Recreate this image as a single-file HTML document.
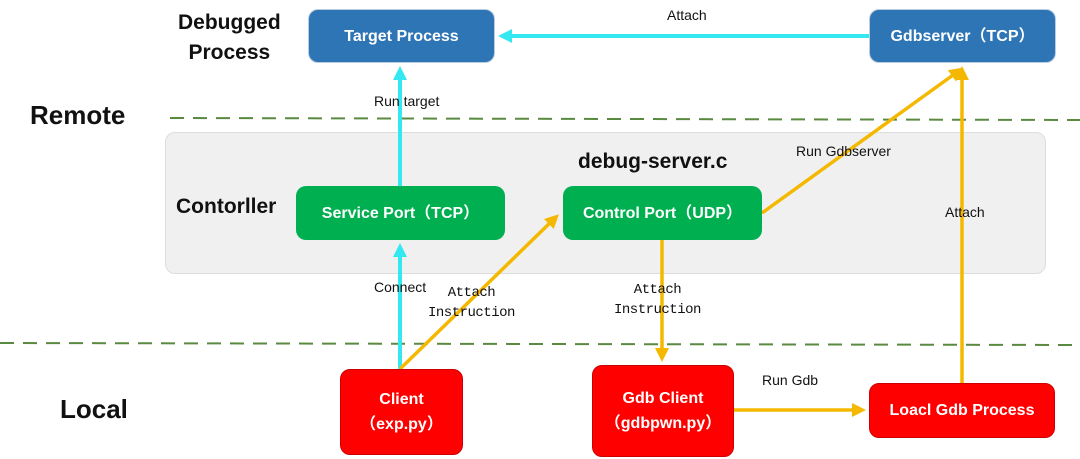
<!DOCTYPE html>
<html><head><style>
body{margin:0;width:1080px;height:459px;background:#fff;position:relative;overflow:hidden;font-family:"Liberation Sans",sans-serif}
.b{position:absolute;border-radius:10px;color:#fff;font-weight:bold;display:flex;align-items:center;justify-content:center;text-align:center;font-size:16px;line-height:25px;font-family:"Liberation Sans","Noto Sans CJK SC",sans-serif;box-sizing:border-box}
.blue{background:#2e75b6;border:1px solid #bcd}
.green{background:#00b050}
.red{background:#f00;border:1px solid #c00}
.t{position:absolute;font-size:14px;color:#111;white-space:nowrap}
.L{position:absolute;font-weight:bold;color:#111}
.m{font-family:"Liberation Mono",monospace;font-size:14px;text-align:center;line-height:20px;letter-spacing:-0.5px}
</style></head><body>
<div style="position:absolute;left:165px;top:132px;width:881px;height:142px;background:#f0f0f0;border:1px solid #ddd;border-radius:10px;box-sizing:border-box"></div>
<svg width="1080" height="459" style="position:absolute;left:0;top:0">
<defs>
<marker id="y" markerWidth="14" markerHeight="14" refX="10" refY="7" orient="auto" markerUnits="userSpaceOnUse"><path d="M0,0 L14,7 L0,14 z" fill="#f5b800"/></marker>
<marker id="c2" markerWidth="14" markerHeight="14" refX="10" refY="7" orient="auto" markerUnits="userSpaceOnUse"><path d="M0,0 L14,7 L0,14 z" fill="#33e8f0"/></marker>
</defs>
<line x1="170" y1="118" x2="1080" y2="120" stroke="#5a8a40" stroke-width="2" stroke-dasharray="14,9"/>
<line x1="0" y1="343" x2="1080" y2="345" stroke="#5a8a40" stroke-width="2" stroke-dasharray="14,9"/>
<g stroke="#33e8f0" stroke-width="4" fill="none">
<line x1="869" y1="36" x2="502" y2="36" marker-end="url(#c2)"/>
<line x1="400" y1="186" x2="400" y2="70" marker-end="url(#c2)"/>
<line x1="400" y1="369" x2="400" y2="247" marker-end="url(#c2)"/>
</g>
<g stroke="#f5b800" stroke-width="3.5" fill="none">
<line x1="400" y1="369" x2="556" y2="217" marker-end="url(#y)"/>
<line x1="662" y1="240" x2="662" y2="358" marker-end="url(#y)"/>
<line x1="762" y1="213" x2="960" y2="70" marker-end="url(#y)"/>
<line x1="734" y1="410" x2="862" y2="410" marker-end="url(#y)"/>
<line x1="962" y1="383" x2="962" y2="70" marker-end="url(#y)"/>
</g>
</svg>
<div class="b blue" style="left:308px;top:9px;width:187px;height:54px">Target Process</div>
<div class="b blue" style="left:869px;top:9px;width:187px;height:54px">Gdbserver（TCP）</div>
<div class="b green" style="left:296px;top:186px;width:209px;height:54px">Service Port（TCP）</div>
<div class="b green" style="left:563px;top:186px;width:199px;height:54px">Control Port（UDP）</div>
<div class="b red" style="left:340px;top:369px;width:123px;height:86px">Client<br>（exp.py）</div>
<div class="b red" style="left:592px;top:365px;width:142px;height:92px">Gdb Client<br>（gdbpwn.py）</div>
<div class="b red" style="left:869px;top:383px;width:186px;height:55px">Loacl Gdb Process</div>
<div class="L" style="left:178px;top:8px;font-size:21px;line-height:30px;text-align:center">Debugged<br>Process</div>
<div class="L" style="left:30px;top:100px;font-size:26px">Remote</div>
<div class="L" style="left:176px;top:195px;font-size:21px">Contorller</div>
<div class="L" style="left:60px;top:394px;font-size:26px">Local</div>
<div class="L" style="left:578px;top:150px;font-size:21px">debug-server.c</div>
<div class="t" style="left:667px;top:7px">Attach</div>
<div class="t" style="left:374px;top:93px">Run target</div>
<div class="t" style="left:796px;top:143px">Run Gdbserver</div>
<div class="t" style="left:945px;top:204px">Attach</div>
<div class="t" style="left:374px;top:279px">Connect</div>
<div class="t m" style="left:428px;top:283px">Attach<br>Instruction</div>
<div class="t m" style="left:614px;top:280px">Attach<br>Instruction</div>
<div class="t" style="left:762px;top:372px">Run Gdb</div>
</body></html>
